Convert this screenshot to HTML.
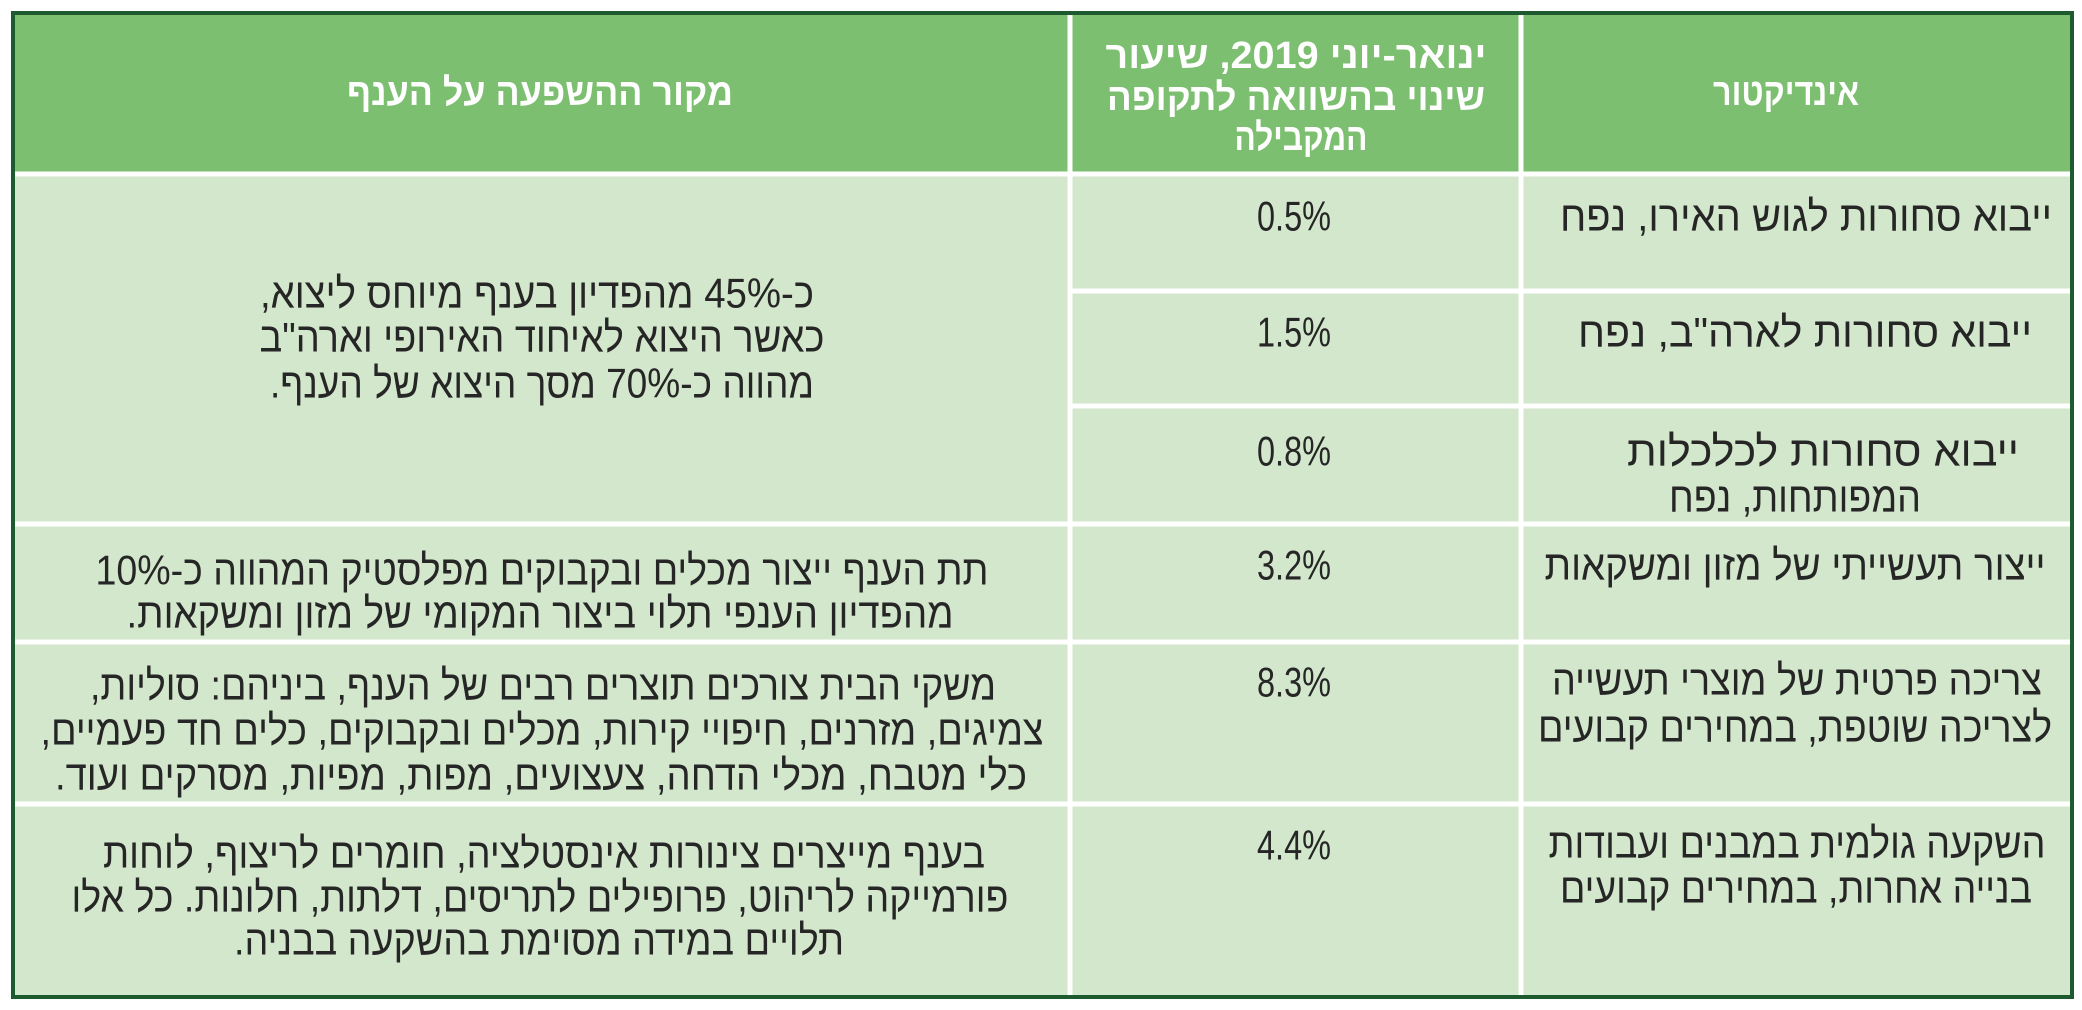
<!DOCTYPE html>
<html><head><meta charset="utf-8"><style>
html,body{margin:0;padding:0;background:#fff;width:2082px;height:1010px;overflow:hidden}
text{font-family:"Liberation Sans","DejaVu Sans",sans-serif;direction:rtl;unicode-bidi:embed}
.b{font-size:42px;fill:#262626}
.h{font-size:38px;fill:#fff;font-weight:bold}
</style></head><body>
<svg width="2082" height="1010" xmlns="http://www.w3.org/2000/svg">
<rect x="13" y="13" width="2059" height="984" fill="#d2e7cb"/>
<rect x="13" y="13" width="2059" height="160" fill="#7dbf70"/>
<g stroke="#fff" stroke-width="5">
<line x1="1070" y1="13" x2="1070" y2="997"/>
<line x1="1521" y1="13" x2="1521" y2="997"/>
<line x1="13" y1="174" x2="2072" y2="174"/>
<line x1="1070" y1="291" x2="2072" y2="291"/>
<line x1="1070" y1="406" x2="2072" y2="406"/>
<line x1="13" y1="524" x2="2072" y2="524"/>
<line x1="13" y1="642" x2="2072" y2="642"/>
<line x1="13" y1="804" x2="2072" y2="804"/>
</g>
<rect x="13" y="13" width="2059" height="984" fill="none" stroke="#1d5a2f" stroke-width="4"/>
<g dominant-baseline="central" text-anchor="middle">
<text class="h" x="540" y="93" textLength="386" lengthAdjust="spacingAndGlyphs">מקור ההשפעה על הענף</text>
<text class="h" x="1296" y="56" textLength="381" lengthAdjust="spacingAndGlyphs">ינואר-יוני 2019, שיעור</text>
<text class="h" x="1296" y="98" textLength="378" lengthAdjust="spacingAndGlyphs">שינוי בהשוואה לתקופה</text>
<text class="h" x="1301" y="138" textLength="133" lengthAdjust="spacingAndGlyphs">המקבילה</text>
<text class="h" x="1786" y="93" textLength="146" lengthAdjust="spacingAndGlyphs">אינדיקטור</text>

<text class="b" x="1806" y="216" textLength="492" lengthAdjust="spacingAndGlyphs">ייבוא סחורות לגוש האירו, נפח</text>
<text class="b" x="1805" y="332" textLength="454" lengthAdjust="spacingAndGlyphs">ייבוא סחורות לארה"ב, נפח</text>
<text class="b" x="1823" y="451" textLength="392" lengthAdjust="spacingAndGlyphs">ייבוא סחורות לכלכלות</text>
<text class="b" x="1795" y="497" textLength="252" lengthAdjust="spacingAndGlyphs">המפותחות, נפח</text>
<text class="b" x="1795" y="565" textLength="501" lengthAdjust="spacingAndGlyphs">ייצור תעשייתי של מזון ומשקאות</text>
<text class="b" x="1797" y="680" textLength="490" lengthAdjust="spacingAndGlyphs">צריכה פרטית של מוצרי תעשייה</text>
<text class="b" x="1795" y="727" textLength="514" lengthAdjust="spacingAndGlyphs">לצריכה שוטפת, במחירים קבועים</text>
<text class="b" x="1797" y="843" textLength="497" lengthAdjust="spacingAndGlyphs">השקעה גולמית במבנים ועבודות</text>
<text class="b" x="1796" y="888" textLength="472" lengthAdjust="spacingAndGlyphs">בנייה אחרות, במחירים קבועים</text>

<text class="b" x="1294" y="216" textLength="74" lengthAdjust="spacingAndGlyphs">0.5%</text>
<text class="b" x="1294" y="332" textLength="74" lengthAdjust="spacingAndGlyphs">1.5%</text>
<text class="b" x="1294" y="451" textLength="74" lengthAdjust="spacingAndGlyphs">0.8%</text>
<text class="b" x="1294" y="565" textLength="74" lengthAdjust="spacingAndGlyphs">3.2%</text>
<text class="b" x="1294" y="682" textLength="74" lengthAdjust="spacingAndGlyphs">8.3%</text>
<text class="b" x="1294" y="845" textLength="74" lengthAdjust="spacingAndGlyphs">4.4%</text>

<text class="b" x="537" y="293" textLength="554" lengthAdjust="spacingAndGlyphs">כ-45% מהפדיון בענף מיוחס ליצוא,</text>
<text class="b" x="542" y="337" textLength="565" lengthAdjust="spacingAndGlyphs">כאשר היצוא לאיחוד האירופי וארה"ב</text>
<text class="b" x="542" y="383" textLength="544" lengthAdjust="spacingAndGlyphs">מהווה כ-70% מסך היצוא של הענף.</text>
<text class="b" x="542" y="570" textLength="893" lengthAdjust="spacingAndGlyphs">תת הענף ייצור מכלים ובקבוקים מפלסטיק המהווה כ-10%</text>
<text class="b" x="540" y="613" textLength="827" lengthAdjust="spacingAndGlyphs">מהפדיון הענפי תלוי ביצור המקומי של מזון ומשקאות.</text>
<text class="b" x="543" y="685" textLength="906" lengthAdjust="spacingAndGlyphs">משקי הבית צורכים תוצרים רבים של הענף, ביניהם: סוליות,</text>
<text class="b" x="542" y="730" textLength="1003" lengthAdjust="spacingAndGlyphs">צמיגים, מזרנים, חיפויי קירות, מכלים ובקבוקים, כלים חד פעמיים,</text>
<text class="b" x="541" y="775" textLength="972" lengthAdjust="spacingAndGlyphs">כלי מטבח, מכלי הדחה, צעצועים, מפות, מפיות, מסרקים ועוד.</text>
<text class="b" x="544" y="853" textLength="882" lengthAdjust="spacingAndGlyphs">בענף מייצרים צינורות אינסטלציה, חומרים לריצוף, לוחות</text>
<text class="b" x="540" y="897" textLength="937" lengthAdjust="spacingAndGlyphs">פורמייקה לריהוט, פרופילים לתריסים, דלתות, חלונות. כל אלו</text>
<text class="b" x="539" y="940" textLength="610" lengthAdjust="spacingAndGlyphs">תלויים במידה מסוימת בהשקעה בבניה.</text>
</g>
</svg>
</body></html>
